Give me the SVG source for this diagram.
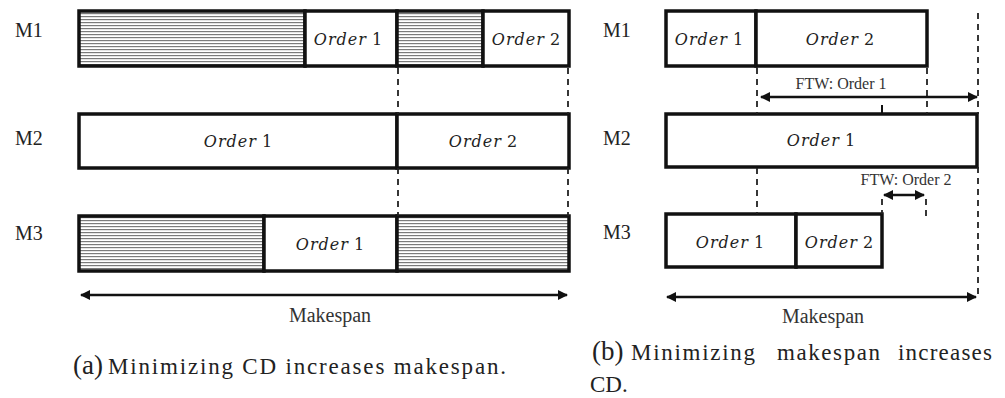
<svg xmlns="http://www.w3.org/2000/svg" width="1005" height="398" viewBox="0 0 1005 398">
<style>
.box{fill:#fff;stroke:#111;stroke-width:3.5}
.hatch{fill:url(#hp);stroke:#111;stroke-width:3.5}
text{font-family:'Liberation Serif','Times New Roman',Tinos,'DejaVu Serif','Noto Serif',serif}
.lbl{font-size:20px;fill:#222}
.ord{font-family:'DejaVu Serif','Liberation Serif','Noto Serif',serif;font-size:16px;fill:#222;text-anchor:middle}
.ord tspan.i{font-style:italic;letter-spacing:1px}
.ftw{font-size:16px;fill:#333;text-anchor:middle}
.ms{font-size:20px;fill:#333;text-anchor:middle}
.cap{font-size:23px;fill:#222}
.par{font-size:27px}
.dash{stroke:#222;stroke-width:1.8;stroke-dasharray:6,5;fill:none}
.arr{stroke:#111;stroke-width:2.5;fill:none;marker-start:url(#ah);marker-end:url(#ah)}
</style>
<defs>
<pattern id="hp" width="6" height="3" patternUnits="userSpaceOnUse">
<rect width="6" height="3" fill="#fff"/>
<rect y="1" width="6" height="1.2" fill="#7a7a7a"/>
</pattern>
<marker id="ah" viewBox="0 0 10 10" refX="9" refY="5" markerWidth="5" markerHeight="4" orient="auto-start-reverse" markerUnits="strokeWidth">
<path d="M0,0 L10,5 L0,10 z" fill="#111"/>
</marker>
</defs>

<g id="panel-a">
<text class="lbl" x="15" y="37">M1</text>
<text class="lbl" x="15" y="145">M2</text>
<text class="lbl" x="15" y="240">M3</text>

<g id="a-m1">
<rect class="hatch" x="79" y="11" width="226" height="55"/>
<rect class="box" x="305" y="11" width="92" height="55"/>
<text class="ord" x="348" y="45"><tspan class="i">Order</tspan> 1</text>
<rect class="hatch" x="397" y="11" width="86" height="55"/>
<rect class="box" x="483" y="11" width="86" height="55"/>
<text class="ord" x="526" y="45"><tspan class="i">Order</tspan> 2</text>
</g>
<g id="a-m2">
<rect class="box" x="79" y="114" width="318" height="54"/>
<text class="ord" x="238" y="147"><tspan class="i">Order</tspan> 1</text>
<rect class="box" x="397" y="114" width="172" height="54"/>
<text class="ord" x="483" y="147"><tspan class="i">Order</tspan> 2</text>
</g>
<g id="a-m3">
<rect class="hatch" x="79" y="216" width="185" height="55"/>
<rect class="box" x="264" y="216" width="133" height="55"/>
<text class="ord" x="330" y="250"><tspan class="i">Order</tspan> 1</text>
<rect class="hatch" x="397" y="216" width="172" height="55"/>
</g>
</g>

<g id="panel-b">
<text class="lbl" x="603" y="37">M1</text>
<text class="lbl" x="603" y="145">M2</text>
<text class="lbl" x="603" y="239">M3</text>
<g id="b-m1">
<rect class="box" x="666" y="11" width="90" height="55"/>
<text class="ord" x="709" y="45"><tspan class="i">Order</tspan> 1</text>
<rect class="box" x="756" y="11" width="171" height="55"/>
<text class="ord" x="840" y="45"><tspan class="i">Order</tspan> 2</text>
</g>
<g id="b-m2">
<rect class="box" x="666" y="114" width="311" height="53"/>
<text class="ord" x="821" y="146"><tspan class="i">Order</tspan> 1</text>
</g>
<g id="b-m3">
<rect class="box" x="666" y="214" width="130" height="53"/>
<text class="ord" x="730" y="248"><tspan class="i">Order</tspan> 1</text>
<rect class="box" x="796" y="214" width="86" height="53"/>
<text class="ord" x="839" y="248"><tspan class="i">Order</tspan> 2</text>
</g>
</g>

<g id="connectors">
<line class="dash" x1="398" y1="68" x2="398" y2="114"/>
<line class="dash" x1="398" y1="168" x2="398" y2="216"/>
<line class="dash" x1="568" y1="68" x2="568" y2="114"/>
<line class="dash" x1="568" y1="168" x2="568" y2="216"/>
<line class="arr" x1="81" y1="295" x2="567" y2="295"/>

<line class="dash" x1="757" y1="68" x2="757" y2="114"/>
<line class="dash" x1="927" y1="68" x2="927" y2="114"/>
<line class="dash" x1="978" y1="13" x2="978" y2="114"/>
<line class="arr" x1="761" y1="97" x2="977" y2="97"/>
<line x1="882" y1="105" x2="882" y2="114" stroke="#111" stroke-width="2"/>
<line class="dash" x1="757" y1="168" x2="757" y2="214"/>
<line class="dash" x1="978" y1="167" x2="978" y2="297"/>
<line class="dash" x1="882" y1="199" x2="882" y2="214"/>
<line class="dash" x1="926" y1="199" x2="926" y2="221"/>
<line class="arr" x1="884" y1="195" x2="924" y2="195"/>
<line class="arr" x1="667" y1="297" x2="976" y2="297"/>
</g>

<g id="labels">
<text class="ftw" x="841" y="89">FTW: Order 1</text>
<text class="ftw" x="906" y="185">FTW: Order 2</text>
<text class="ms" x="330" y="322">Makespan</text>
<text class="ms" x="823" y="323">Makespan</text>
<text class="cap" x="73" y="374"><tspan class="par">(a)</tspan><tspan x="108" textLength="398" lengthAdjust="spacing">Minimizing CD increases makespan.</tspan></text>
<text class="cap" x="592" y="360"><tspan class="par">(b)</tspan><tspan x="631" textLength="124" lengthAdjust="spacing">Minimizing</tspan><tspan x="777" textLength="103" lengthAdjust="spacing">makespan</tspan><tspan x="898" textLength="94" lengthAdjust="spacing">increases</tspan></text>
<text class="cap" x="590" y="392">CD.</text>
</g>
</svg>
